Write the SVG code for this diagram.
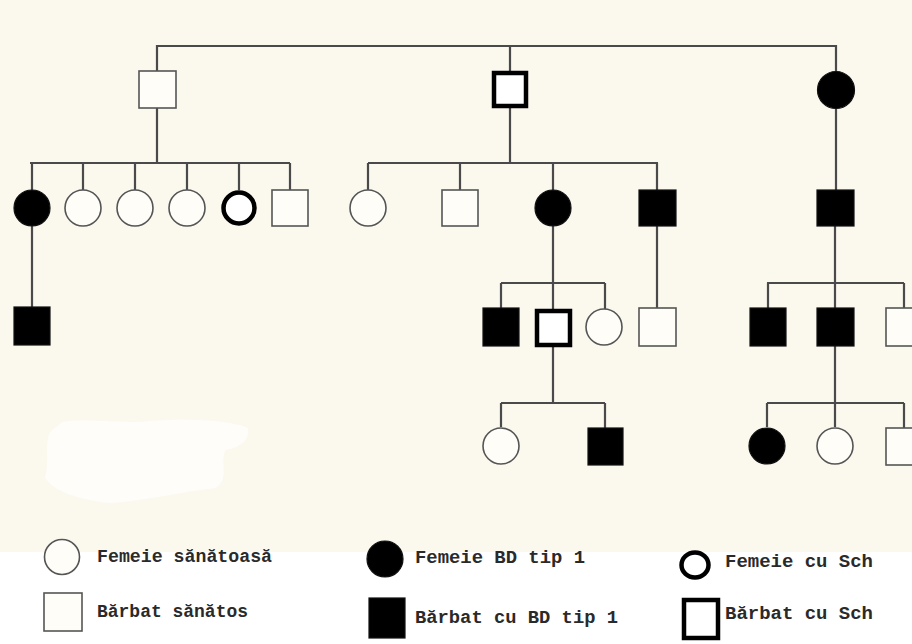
<svg xmlns="http://www.w3.org/2000/svg" width="912" height="644" viewBox="0 0 912 644">
<style>
.ln{stroke:#4a4a4a;stroke-width:2.2;fill:none}
.h{fill:#fffdf8;stroke:#555;stroke-width:1.6}
.a{fill:#000;stroke:#111;stroke-width:1.2}
.s{fill:#fff;stroke:#000;stroke-width:4.5}
.t{font-family:"Liberation Mono","Courier New",monospace;font-size:18px;font-weight:bold;fill:#2a2a2a}
</style>
<rect x="0" y="0" width="912" height="644" fill="#fbf8ee"/>
<rect x="0" y="552" width="912" height="92" fill="#ffffff"/>
<path d="M62,422 C90,418 120,424 150,421 C190,418 230,420 248,428 C250,440 240,448 225,450 C220,465 230,480 215,488 C180,492 150,500 110,503 C80,500 55,492 45,478 C50,460 44,445 50,432 Z" fill="#fefdf9"/>
<g id="connectors">
<path class="ln" d="M157,71 V46 H836 V72"/>
<path class="ln" d="M510,72 V46"/>
<path class="ln" d="M157,108 V163 M30,163 H290 M32,163 V190 M83,163 V190 M135,163 V190 M187,163 V190 M239,163 V190 M290,163 V190"/>
<path class="ln" d="M510,108 V163 M368,163 H658 M368,163 V190 M460,163 V190 M553,163 V190 M657,163 V190"/>
<path class="ln" d="M836,108 V190"/>
<path class="ln" d="M32,226 V307"/>
<path class="ln" d="M553,226 V309 M501,283 H605 M501,283 V308 M605,283 V309"/>
<path class="ln" d="M657,226 V308"/>
<path class="ln" d="M835,226 V308 M767,283 H904 M768,283 V308 M904,283 V308"/>
<path class="ln" d="M553,347 V403 M501,403 H605 M501,403 V427 M605,403 V428"/>
<path class="ln" d="M835,346 V427 M767,403 H904 M767,403 V427 M904,403 V428"/>
</g>
<g id="g1-m1"><rect class="h" x="139" y="71" width="37" height="37"/></g>
<g id="g1-m2"><rect class="s" x="494" y="73" width="32" height="33"/></g>
<g id="g1-f3"><circle class="a" cx="836" cy="90" r="18.5"/></g>
<g id="g2-1"><circle class="a" cx="32" cy="208" r="18"/></g>
<g id="g2-2"><circle class="h" cx="83" cy="208" r="18"/></g>
<g id="g2-3"><circle class="h" cx="135" cy="208" r="18"/></g>
<g id="g2-4"><circle class="h" cx="187" cy="208" r="18"/></g>
<g id="g2-5"><circle class="s" cx="239" cy="208" r="15.5" stroke-width="5"/></g>
<g id="g2-6"><rect class="h" x="272" y="190" width="36" height="36"/></g>
<g id="g2-7"><circle class="h" cx="368" cy="208" r="18"/></g>
<g id="g2-8"><rect class="h" x="442" y="190" width="36" height="36"/></g>
<g id="g2-9"><circle class="a" cx="553" cy="208" r="18"/></g>
<g id="g2-10"><rect class="a" x="639" y="190" width="37" height="36"/></g>
<g id="g2-11"><rect class="a" x="817" y="190" width="37" height="36"/></g>
<g id="g3-1"><rect class="a" x="14" y="307" width="36" height="38"/></g>
<g id="g3-2"><rect class="a" x="483" y="308" width="36" height="38"/></g>
<g id="g3-3"><rect class="s" x="537" y="311" width="33" height="34"/></g>
<g id="g3-4"><circle class="h" cx="604" cy="327" r="18"/></g>
<g id="g3-5"><rect class="h" x="639" y="308" width="37" height="38"/></g>
<g id="g3-6"><rect class="a" x="750" y="308" width="36" height="38"/></g>
<g id="g3-7"><rect class="a" x="817" y="308" width="37" height="38"/></g>
<g id="g3-8"><rect class="h" x="886" y="308" width="36" height="38"/></g>
<g id="g4-1"><circle class="h" cx="501" cy="446" r="18"/></g>
<g id="g4-2"><rect class="a" x="588" y="428" width="35" height="37"/></g>
<g id="g4-3"><circle class="a" cx="767" cy="446" r="18"/></g>
<g id="g4-4"><circle class="h" cx="835" cy="446" r="18"/></g>
<g id="g4-5"><rect class="h" x="886" y="428" width="36" height="37"/></g>
<g id="legend">
<circle class="h" cx="62" cy="557" r="17.5"/>
<text class="t" x="97" y="562" textLength="175" lengthAdjust="spacingAndGlyphs">Femeie sănătoasă</text>
<rect class="h" x="44" y="593" width="38" height="38"/>
<text class="t" x="97" y="617" textLength="151" lengthAdjust="spacingAndGlyphs">Bărbat sănătos</text>
<circle class="a" cx="385" cy="559" r="18"/>
<text class="t" x="415" y="563" textLength="170" lengthAdjust="spacingAndGlyphs">Femeie BD tip 1</text>
<rect class="a" x="369" y="598" width="36" height="40"/>
<text class="t" x="415" y="623" textLength="203" lengthAdjust="spacingAndGlyphs">Bărbat cu BD tip 1</text>
<ellipse class="s" cx="695" cy="565" rx="13.5" ry="12.5" stroke-width="5.5"/>
<text class="t" x="725" y="567" textLength="148" lengthAdjust="spacingAndGlyphs">Femeie cu Sch</text>
<rect class="s" x="684" y="600" width="34" height="38" stroke-width="5"/>
<text class="t" x="725" y="619" textLength="148" lengthAdjust="spacingAndGlyphs">Bărbat cu Sch</text>
</g>
</svg>
